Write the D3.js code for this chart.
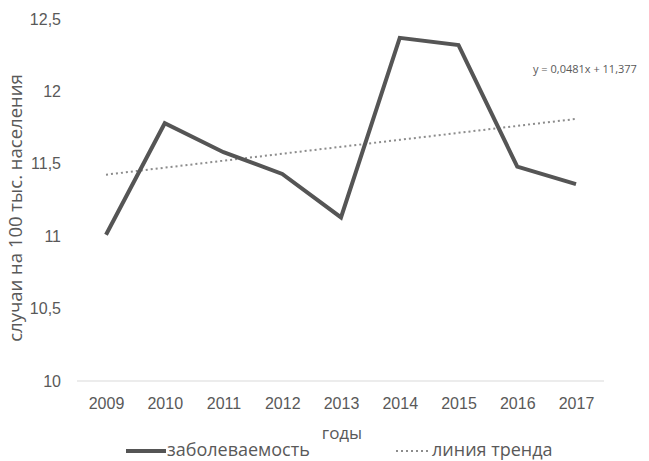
<!DOCTYPE html>
<html>
<head>
<meta charset="utf-8">
<script src="https://cdn.jsdelivr.net/npm/d3@7"></script>
<style>
  html, body { margin: 0; padding: 0; background: #fff; }
  svg { display: block; font-family: "Open Sans", "Noto Sans", sans-serif; }
</style>
</head>
<body>
<svg id="chart" width="649" height="461"></svg>
<script>
// Incidence per 100k population by year
const years = ["2009", "2010", "2011", "2012", "2013", "2014", "2015", "2016", "2017"];
const incidence = [11.01, 11.78, 11.58, 11.43, 11.13, 12.37, 12.32, 11.48, 11.36];
// Linear trend: y = slope * x + intercept, x = 1..9
const trendSlope = 0.0481;
const trendIntercept = 11.377;
const yTicks = [10, 10.5, 11, 11.5, 12, 12.5];
const legendLabels = ["заболеваемость", "линия тренда"];

const svg = d3.select("#chart");
const textColor = "#595959";
const lineColor = "#555555";
const trendColor = "#8c8c8c";

const x = d3.scalePoint().domain(years).range([106, 576]);
const y = d3.scaleLinear().domain([10, 12.5]).range([381, 19]);
const fmt = v => String(v).replace(".", ",");

// baseline
svg.append("line")
  .attr("x1", 77).attr("x2", 604)
  .attr("y1", y(10)).attr("y2", y(10))
  .attr("stroke", "#d9d9d9").attr("stroke-width", 1);

// y axis labels
const yAxis = d3.axisLeft(y).tickValues(yTicks).tickFormat(fmt).tickSize(0).tickPadding(0);
svg.append("g").attr("transform", "translate(61,0)").call(yAxis)
  .call(g => g.select(".domain").remove())
  .selectAll("text")
  .attr("fill", textColor).style("font-size", "16px");

// x axis labels
const xAxis = d3.axisBottom(x).tickSize(0).tickPadding(0);
svg.append("g").attr("transform", "translate(0,398)").call(xAxis)
  .call(g => g.select(".domain").remove())
  .selectAll("text")
  .attr("fill", textColor).style("font-size", "16px");

// axis titles
svg.append("text")
  .attr("transform", "translate(22,208) rotate(-90)")
  .attr("text-anchor", "middle")
  .attr("fill", textColor).style("font-size", "18.5px")
  .text("случаи на  100 тыс. населения");

svg.append("text")
  .attr("x", 342).attr("y", 439)
  .attr("text-anchor", "middle")
  .attr("fill", textColor).style("font-size", "17px")
  .text("годы");

// trend line
const trendPts = years.map((yr, i) => [yr, trendSlope * (i + 1) + trendIntercept]);
svg.append("path")
  .datum(trendPts)
  .attr("fill", "none")
  .attr("stroke", trendColor)
  .attr("stroke-width", 2)
  .attr("stroke-dasharray", "2,3")
  .attr("d", d3.line().x(d => x(d[0])).y(d => y(d[1])));

// incidence line
svg.append("path")
  .datum(years.map((yr, i) => [yr, incidence[i]]))
  .attr("fill", "none")
  .attr("stroke", lineColor)
  .attr("stroke-width", 4)
  .attr("stroke-linejoin", "miter")
  .attr("d", d3.line().x(d => x(d[0])).y(d => y(d[1])));

// trend equation
svg.append("text")
  .attr("x", 533).attr("y", 73)
  .attr("fill", textColor).style("font-size", "11px")
  .text("y = " + fmt(trendSlope) + "x + " + fmt(trendIntercept));

// legend
const lg = svg.append("g");
lg.append("line").attr("x1", 126).attr("x2", 166).attr("y1", 451).attr("y2", 451)
  .attr("stroke", lineColor).attr("stroke-width", 4);
lg.append("text").attr("x", 167).attr("y", 456)
  .attr("fill", textColor).style("font-size", "18px").text(legendLabels[0]);
lg.append("line").attr("x1", 396).attr("x2", 431).attr("y1", 451).attr("y2", 451)
  .attr("stroke", trendColor).attr("stroke-width", 2).attr("stroke-dasharray", "2,3");
lg.append("text").attr("x", 432).attr("y", 456)
  .attr("fill", textColor).style("font-size", "18px").text(legendLabels[1]);
</script>
</body>
</html>
